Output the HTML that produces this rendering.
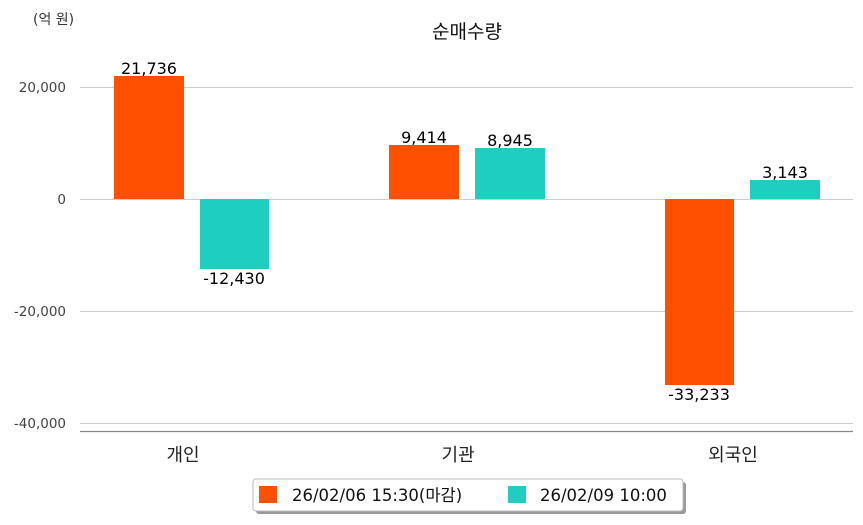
<!DOCTYPE html>
<html><head><meta charset="utf-8"><style>
body{margin:0;background:#fff;}
svg text{font-family:"DejaVu Sans","Noto Sans CJK KR",sans-serif;}
</style></head><body>
<svg width="863" height="520" xmlns="http://www.w3.org/2000/svg">
<text x="33" y="24" font-size="14" fill="#333">(억 원)</text>
<text x="467" y="38" font-size="19" text-anchor="middle" fill="#111">순매수량</text>
<g stroke="#ccc" stroke-width="1">
<line x1="80" y1="87.5" x2="853" y2="87.5"/>
<line x1="80" y1="199.5" x2="853" y2="199.5"/>
<line x1="80" y1="311.5" x2="853" y2="311.5"/>
<line x1="80" y1="423.5" x2="853" y2="423.5"/>
</g>
<line x1="80" y1="431.5" x2="853" y2="431.5" stroke="#888" stroke-width="1.2"/>
<g font-size="13.5" fill="#444" text-anchor="end">
<text x="66" y="92">20,000</text>
<text x="66" y="204">0</text>
<text x="66" y="316">-20,000</text>
<text x="66" y="428">-40,000</text>
</g>
<g fill="#ff5000">
<rect x="114" y="76" width="70" height="123"/>
<rect x="389" y="145" width="70" height="54"/>
<rect x="665" y="199" width="69" height="186"/>
</g>
<g fill="#1ecebe">
<rect x="200" y="199" width="69" height="70"/>
<rect x="475" y="148" width="70" height="51"/>
<rect x="750" y="180" width="70" height="19"/>
</g>
<g font-size="16" fill="#000" text-anchor="middle" font-weight="500">
<text x="149" y="74">21,736</text>
<text x="234" y="284">-12,430</text>
<text x="424" y="143">9,414</text>
<text x="510" y="146">8,945</text>
<text x="699" y="400">-33,233</text>
<text x="785" y="178">3,143</text>
</g>
<g font-size="18" fill="#222" text-anchor="middle">
<text x="183" y="461">개인</text>
<text x="458" y="461">기관</text>
<text x="733" y="461">외국인</text>
</g>
<rect x="256" y="482" width="430" height="32" rx="3" fill="#999"/>
<rect x="253" y="479" width="430" height="32" rx="3" fill="#fff" stroke="#bbb"/>
<rect x="259" y="486" width="18" height="17" fill="#ff5000"/>
<text x="292" y="501" font-size="16.5" fill="#111">26/02/06 15:30(마감)</text>
<rect x="508" y="486" width="18" height="17" fill="#1ecebe"/>
<text x="540" y="501" font-size="16.5" fill="#111">26/02/09 10:00</text>
</svg>
</body></html>
